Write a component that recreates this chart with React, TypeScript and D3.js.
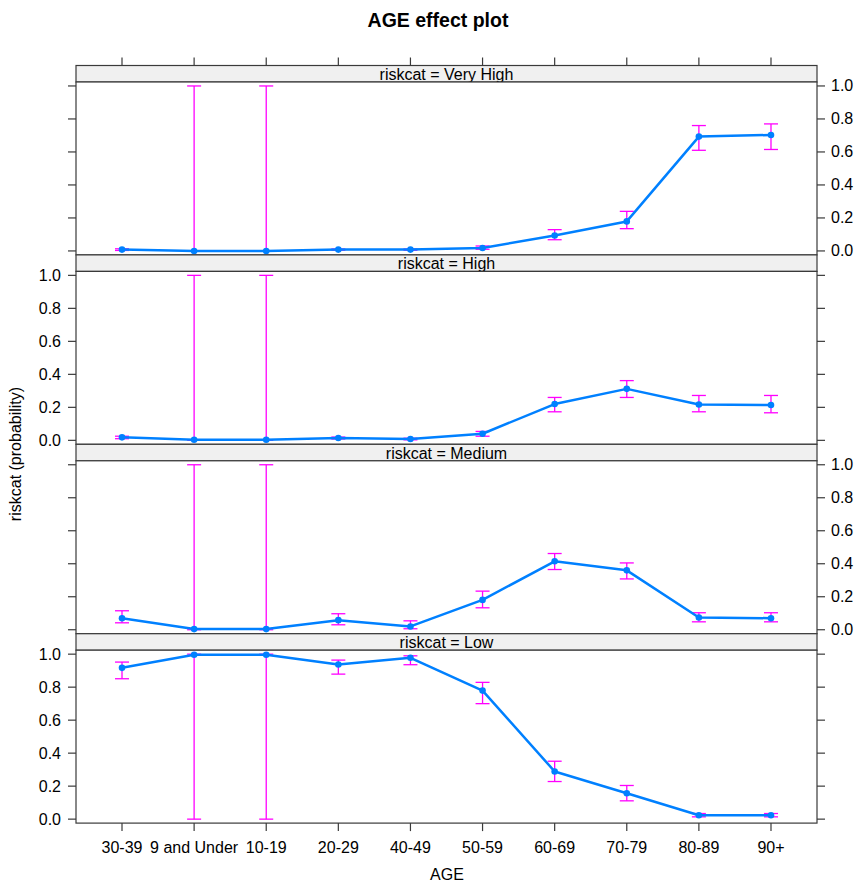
import * as d3 from "d3";
import React from "react";

// categories in the order the plot shows them
const ageLevels = ["30-39", "9 and Under", "10-19", "20-29", "40-49", "50-59", "60-69", "70-79", "80-89", "90+"];
const riskLevels = ["Very High", "High", "Medium", "Low"];
const yTicks = [0, 0.2, 0.4, 0.6, 0.8, 1.0];

// fitted probabilities and confidence limits
const veryHighFit = [0.008, 0.0, 0.0, 0.008, 0.008, 0.018, 0.094, 0.179, 0.693, 0.703];
const veryHighLower = [0.003, 0.0, 0.0, 0.004, 0.004, 0.01, 0.068, 0.135, 0.61, 0.615];
const veryHighUpper = [0.013, 1.0, 1.0, 0.012, 0.012, 0.03, 0.129, 0.24, 0.76, 0.77];

const highFit = [0.018, 0.004, 0.004, 0.014, 0.008, 0.04, 0.22, 0.312, 0.217, 0.214];
const highLower = [0.01, 0.0, 0.0, 0.008, 0.003, 0.025, 0.173, 0.26, 0.173, 0.167];
const highUpper = [0.025, 1.0, 1.0, 0.02, 0.013, 0.054, 0.26, 0.362, 0.272, 0.272];

const mediumFit = [0.07, 0.004, 0.004, 0.058, 0.02, 0.181, 0.415, 0.36, 0.074, 0.07];
const mediumLower = [0.042, 0.0, 0.0, 0.03, 0.006, 0.133, 0.365, 0.308, 0.048, 0.048];
const mediumUpper = [0.115, 1.0, 1.0, 0.097, 0.054, 0.234, 0.462, 0.405, 0.103, 0.103];

const lowFit = [0.917, 0.996, 0.996, 0.937, 0.978, 0.779, 0.289, 0.157, 0.024, 0.024];
const lowLower = [0.851, 0.0, 0.0, 0.879, 0.936, 0.7, 0.228, 0.111, 0.014, 0.014];
const lowUpper = [0.952, 1.0, 1.0, 0.964, 0.99, 0.829, 0.351, 0.204, 0.034, 0.034];

const fits = [veryHighFit, highFit, mediumFit, lowFit];
const lowers = [veryHighLower, highLower, mediumLower, lowLower];
const uppers = [veryHighUpper, highUpper, mediumUpper, lowUpper];

const W = 861;
const H = 884;
const left = 76;
const right = 817;
const top = 65.5;
const blockH = 189.4;
const stripH = 16.5;
const tickLen = 8;
const fs = 16;
const font = "'Liberation Sans', Arial, sans-serif";
const frame = "#3a3a3a";
const lineCol = "#0080ff";
const barCol = "#ff00ff";

export default function App() {
  const x = d3.scalePoint<string>().domain(ageLevels).range([left, right]).padding(0.638);
  const line = d3.line<number>();

  const panels = riskLevels.map((risk, i) => {
    const t = top + i * blockH;
    const pTop = t + stripH;
    const pBot = t + blockH;
    const y = d3.scaleLinear().domain([-0.024, 1.024]).range([pBot, pTop]);
    const fit = fits[i];
    const lo = lowers[i];
    const hi = uppers[i];
    const pts = ageLevels.map((a, j) => [x(a)!, y(fit[j])] as [number, number]);
    // labels alternate: right side on even panels, left on odd
    const labelRight = i % 2 === 0;
    return (
      <g key={risk}>
        <rect x={left} y={t} width={right - left} height={stripH} fill="#f0f0f0" stroke={frame} strokeWidth={1.2} />
        <text x={(left + right) / 2} y={t + stripH - 2} textAnchor="middle" fontSize={fs} fontFamily={font} fill="#000">
          {`riskcat = ${risk}`}
        </text>
        <rect x={left} y={pTop} width={right - left} height={pBot - pTop} fill="#fff" stroke={frame} strokeWidth={1.2} />
        {yTicks.map(v => (
          <g key={v}>
            <line x1={left - tickLen} x2={left} y1={y(v)} y2={y(v)} stroke={frame} strokeWidth={1.2} />
            <line x1={right} x2={right + tickLen} y1={y(v)} y2={y(v)} stroke={frame} strokeWidth={1.2} />
            {labelRight ? (
              <text x={right + 14} y={y(v) + 5.5} fontSize={fs} fontFamily={font} fill="#000">{d3.format(".1f")(v)}</text>
            ) : (
              <text x={left - 15} y={y(v) + 5.5} textAnchor="end" fontSize={fs} fontFamily={font} fill="#000">{d3.format(".1f")(v)}</text>
            )}
          </g>
        ))}
        {ageLevels.map((a, j) => (
          <g key={a} stroke={barCol} strokeWidth={1.3}>
            <line x1={x(a)} x2={x(a)} y1={y(lo[j])} y2={y(hi[j])} />
            <line x1={x(a)! - 7} x2={x(a)! + 7} y1={y(lo[j])} y2={y(lo[j])} />
            <line x1={x(a)! - 7} x2={x(a)! + 7} y1={y(hi[j])} y2={y(hi[j])} />
          </g>
        ))}
        <path d={line(pts as any) || ""} fill="none" stroke={lineCol} strokeWidth={2.5} strokeLinejoin="round" />
        {pts.map((p, j) => (
          <circle key={j} cx={p[0]} cy={p[1]} r={3.3} fill={lineCol} />
        ))}
      </g>
    );
  });

  const bottom = top + 4 * blockH;

  return (
    <svg width={W} height={H} style={{ position: "absolute", left: 0, top: 0, background: "#fff" }}>
      <text x={438} y={27} textAnchor="middle" fontSize={19.5} fontWeight="bold" fontFamily={font} fill="#000">
        AGE effect plot
      </text>
      {ageLevels.map(a => (
        <line key={a} x1={x(a)} x2={x(a)} y1={top - tickLen} y2={top} stroke={frame} strokeWidth={1.2} />
      ))}
      {panels}
      {ageLevels.map(a => (
        <g key={a}>
          <line x1={x(a)} x2={x(a)} y1={bottom} y2={bottom + tickLen} stroke={frame} strokeWidth={1.2} />
          <text x={x(a)} y={853} textAnchor="middle" fontSize={fs} fontFamily={font} fill="#000">{a}</text>
        </g>
      ))}
      <text x={447} y={880} textAnchor="middle" fontSize={fs} fontFamily={font} fill="#000">AGE</text>
      <text transform={`translate(21,454) rotate(-90)`} textAnchor="middle" fontSize={fs} fontFamily={font} fill="#000">
        riskcat (probability)
      </text>
    </svg>
  );
}
